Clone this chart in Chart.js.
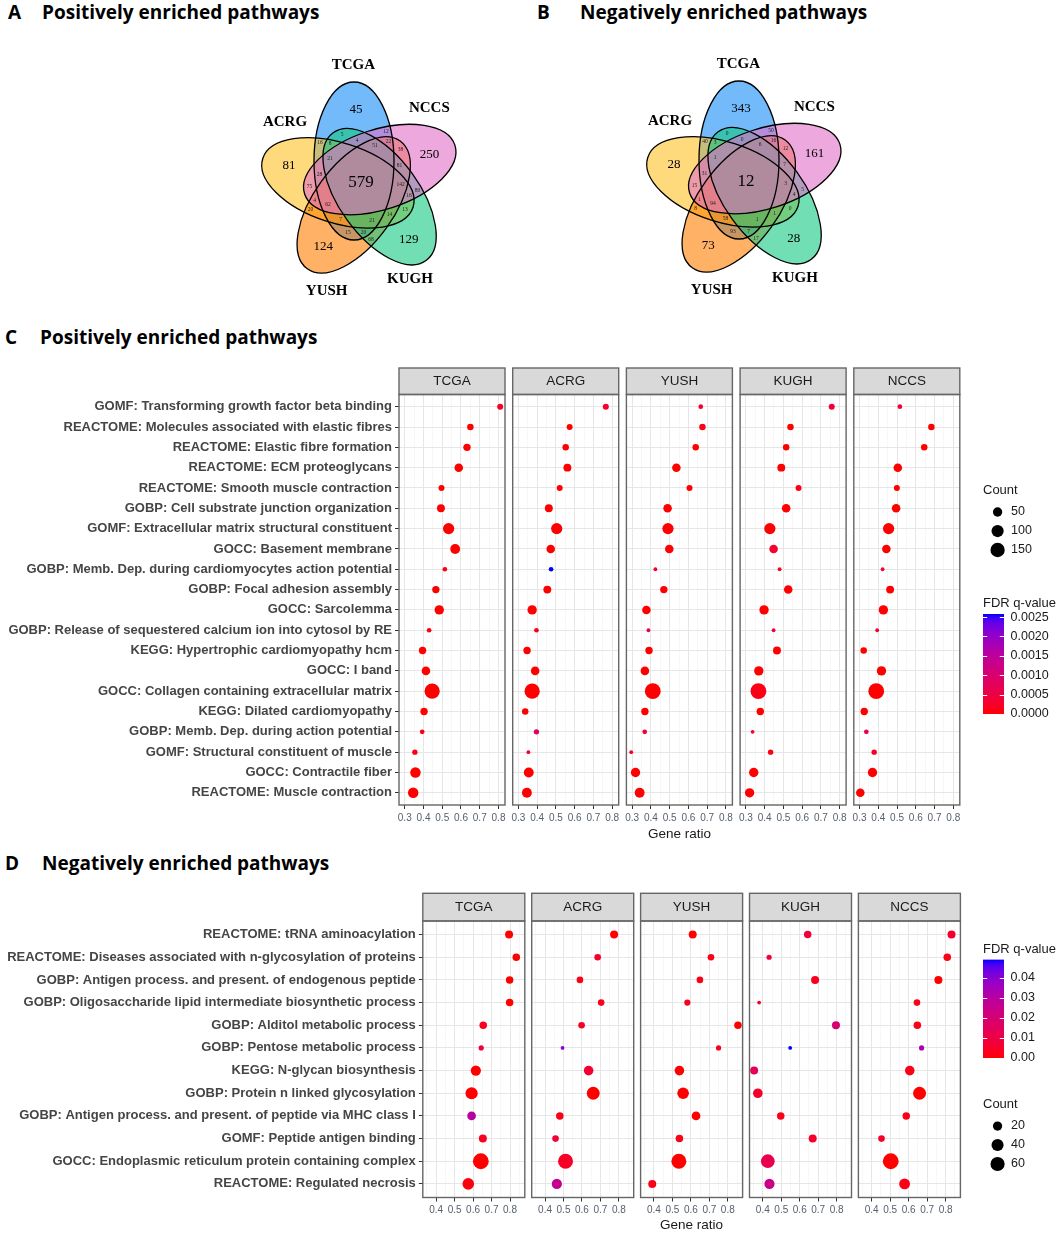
<!DOCTYPE html>
<html>
<head>
<meta charset="utf-8">
<script src="https://cdn.jsdelivr.net/npm/chart.js@4.4.1/dist/chart.umd.min.js"></script>
<style>
  html, body { margin: 0; padding: 0; background: #fff; }
  #page { position: relative; width: 1059px; height: 1233px; overflow: hidden; background: #fff; }
  canvas { position: absolute; }
  .head { position: absolute; font-family: 'Open Sans', sans-serif; font-weight: 700; font-size: 19px;
          line-height: 24px; color: #000; white-space: nowrap; }
</style>
</head>
<body>
<div id="page">
  <div class="head" style="left:8px;top:0px">A</div>
  <div class="head" style="left:42px;top:0px">Positively enriched pathways</div>
  <div class="head" style="left:537px;top:0px">B</div>
  <div class="head" style="left:580px;top:0px">Negatively enriched pathways</div>
  <div class="head" style="left:5px;top:325px">C</div>
  <div class="head" style="left:40px;top:325px">Positively enriched pathways</div>
  <div class="head" style="left:5px;top:851px">D</div>
  <div class="head" style="left:42px;top:851px">Negatively enriched pathways</div>
</div>
<script>
// ── Venn data (A: positive, B: negative) ─────────────────────
const vennSets = ['TCGA', 'ACRG', 'YUSH', 'KUGH', 'NCCS'];
const vennRegions = [
  'TCGA', 'ACRG', 'YUSH', 'KUGH', 'NCCS',
  'TCGA&KUGH', 'YUSH&NCCS', 'ACRG&KUGH', 'TCGA&YUSH', 'ACRG&NCCS',
  'TCGA&ACRG', 'TCGA&NCCS', 'KUGH&NCCS', 'YUSH&KUGH', 'ACRG&YUSH',
  'TCGA&KUGH&NCCS', 'YUSH&KUGH&NCCS', 'ACRG&YUSH&KUGH', 'TCGA&ACRG&YUSH', 'TCGA&ACRG&NCCS',
  'TCGA&ACRG&KUGH', 'TCGA&YUSH&NCCS', 'ACRG&KUGH&NCCS', 'TCGA&YUSH&KUGH', 'ACRG&YUSH&NCCS',
  'TCGA&ACRG&KUGH&NCCS', 'TCGA&YUSH&KUGH&NCCS', 'ACRG&YUSH&KUGH&NCCS', 'TCGA&ACRG&YUSH&KUGH', 'TCGA&ACRG&YUSH&NCCS',
  'TCGA&ACRG&YUSH&KUGH&NCCS'
];
const vennPosCounts = [45, 81, 124, 129, 250, 5, 38, 13, 15, 75, 16, 12, 80, 68, 20,
  4, 81, 14, 7, 28, 8, 22, 16, 20, 4, 21, 51, 142, 21, 62, 579];
const vennNegCounts = [343, 28, 73, 28, 161, 0, 12, 0, 93, 15, 40, 50, 5, 17, 8,
  0, 7, 1, 58, 31, 3, 16, 4, 7, 1, 1, 6, 3, 1, 94, 12];

// ── Panel C: positively enriched pathways ────────────────────
const cohorts = ['TCGA', 'ACRG', 'YUSH', 'KUGH', 'NCCS'];
const posPathways = [
  'GOMF: Transforming growth factor beta binding',
  'REACTOME: Molecules associated with elastic fibres',
  'REACTOME: Elastic fibre formation',
  'REACTOME: ECM proteoglycans',
  'REACTOME: Smooth muscle contraction',
  'GOBP: Cell substrate junction organization',
  'GOMF: Extracellular matrix structural constituent',
  'GOCC: Basement membrane',
  'GOBP: Memb. Dep. during cardiomyocytes action potential',
  'GOBP: Focal adhesion assembly',
  'GOCC: Sarcolemma',
  'GOBP: Release of sequestered calcium ion into cytosol by RE',
  'KEGG: Hypertrophic cardiomyopathy hcm',
  'GOCC: I band',
  'GOCC: Collagen containing extracellular matrix',
  'KEGG: Dilated cardiomyopathy',
  'GOBP: Memb. Dep. during action potential',
  'GOMF: Structural constituent of muscle',
  'GOCC: Contractile fiber',
  'REACTOME: Muscle contraction'
];
const posRatioTCGA = [0.809, 0.650, 0.632, 0.588, 0.496, 0.493, 0.534, 0.569, 0.514, 0.466, 0.484, 0.430, 0.395, 0.413, 0.446, 0.403, 0.393, 0.354, 0.357, 0.345];
const posRatioACRG = [0.766, 0.573, 0.552, 0.561, 0.520, 0.462, 0.504, 0.472, 0.474, 0.454, 0.373, 0.396, 0.346, 0.389, 0.373, 0.336, 0.396, 0.353, 0.355, 0.345];
const posRatioYUSH = [0.666, 0.675, 0.639, 0.536, 0.606, 0.489, 0.491, 0.498, 0.424, 0.469, 0.376, 0.387, 0.390, 0.368, 0.410, 0.368, 0.367, 0.295, 0.318, 0.340];
const posRatioKUGH = [0.758, 0.538, 0.515, 0.489, 0.581, 0.515, 0.428, 0.448, 0.480, 0.526, 0.397, 0.448, 0.466, 0.369, 0.367, 0.377, 0.336, 0.432, 0.342, 0.320];
const posRatioNCCS = [0.515, 0.683, 0.645, 0.504, 0.499, 0.495, 0.455, 0.443, 0.423, 0.463, 0.427, 0.394, 0.322, 0.417, 0.389, 0.325, 0.336, 0.378, 0.369, 0.304];
const posCountTCGA = [18, 21, 28, 40, 18, 33, 81, 58, 13, 28, 50, 13, 28, 40, 173, 28, 13, 15, 67, 67];
const posCountACRG = [18, 18, 21, 33, 18, 33, 81, 40, 13, 33, 50, 13, 28, 40, 173, 21, 15, 12, 58, 58];
const posCountYUSH = [13, 21, 21, 40, 18, 40, 81, 40, 12, 28, 40, 12, 28, 40, 190, 28, 13, 12, 50, 58];
const posCountKUGH = [18, 21, 21, 33, 18, 40, 81, 40, 12, 40, 50, 12, 33, 50, 190, 28, 12, 15, 50, 50];
const posCountNCCS = [13, 21, 21, 40, 18, 40, 81, 40, 12, 33, 50, 12, 21, 50, 190, 28, 13, 15, 50, 40];
const posFdrTCGA = [0.0002, 0, 0, 0, 0, 0, 0, 0, 0.0001, 0, 0, 0.0001, 0, 0, 0, 0, 0.0001, 0.0001, 0, 0];
const posFdrACRG = [0.0003, 0, 0, 0, 0, 0, 0, 0, 0.00258, 0, 0, 0.0002, 0, 0, 0, 0, 0.0008, 0.0002, 0, 0];
const posFdrYUSH = [0.0003, 0.0001, 0, 0, 0, 0, 0, 0, 0.0003, 0, 0, 0.0005, 0, 0, 0, 0, 0.0004, 0.0002, 0, 0];
const posFdrKUGH = [0.0004, 0, 0, 0, 0.0001, 0, 0, 0.0003, 0.0001, 0, 0, 0.0004, 0, 0, 0.0001, 0, 0.0003, 0.0001, 0, 0];
const posFdrNCCS = [0.0003, 0, 0, 0, 0, 0, 0, 0, 0.0003, 0, 0, 0.0003, 0, 0, 0, 0, 0.0006, 0.0002, 0, 0];
const posCountBreaks = [50, 100, 150];
const posFdrBreaks = [0, 0.0005, 0.001, 0.0015, 0.002, 0.0025];

// ── Panel D: negatively enriched pathways ────────────────────
const negPathways = [
  'REACTOME: tRNA aminoacylation',
  'REACTOME: Diseases associated with n-glycosylation of proteins',
  'GOBP: Antigen process. and present. of endogenous peptide',
  'GOBP: Oligosaccharide lipid intermediate biosynthetic process',
  'GOBP: Alditol metabolic process',
  'GOBP: Pentose metabolic process',
  'KEGG: N-glycan biosynthesis',
  'GOBP: Protein n linked glycosylation',
  'GOBP: Antigen process. and present. of peptide via MHC class I',
  'GOMF: Peptide antigen binding',
  'GOCC: Endoplasmic reticulum protein containing complex',
  'REACTOME: Regulated necrosis'
];
const negRatioTCGA = [0.795, 0.834, 0.798, 0.798, 0.655, 0.644, 0.615, 0.592, 0.592, 0.653, 0.642, 0.574];
const negRatioACRG = [0.774, 0.685, 0.589, 0.704, 0.598, 0.495, 0.636, 0.661, 0.480, 0.457, 0.511, 0.464];
const negRatioYUSH = [0.610, 0.709, 0.649, 0.581, 0.855, 0.750, 0.538, 0.558, 0.628, 0.538, 0.535, 0.391];
const negRatioKUGH = [0.643, 0.434, 0.683, 0.380, 0.796, 0.548, 0.353, 0.373, 0.497, 0.670, 0.427, 0.436];
const negRatioNCCS = [0.832, 0.809, 0.761, 0.645, 0.647, 0.670, 0.606, 0.659, 0.587, 0.453, 0.503, 0.578];
const negCountTCGA = [14, 12, 12, 12, 12, 6, 26, 41, 17, 14, 78, 36];
const negCountACRG = [14, 9, 9, 9, 9, 5, 22, 47, 12, 9, 68, 26];
const negCountYUSH = [14, 9, 9, 8, 12, 6, 22, 36, 17, 12, 68, 14];
const negCountKUGH = [12, 6, 14, 5, 14, 5, 14, 22, 12, 14, 55, 26];
const negCountNCCS = [14, 12, 14, 9, 12, 6, 22, 47, 12, 9, 78, 30];
const negFdrTCGA = [0, 0, 0, 0, 0.003, 0.008, 0, 0, 0.030, 0.003, 0, 0.001];
const negFdrACRG = [0, 0.005, 0.002, 0.003, 0.004, 0.040, 0.006, 0, 0.002, 0.007, 0.004, 0.026];
const negFdrYUSH = [0, 0.002, 0.002, 0.003, 0, 0.003, 0, 0, 0, 0.002, 0, 0.002];
const negFdrKUGH = [0.008, 0.008, 0.003, 0.004, 0.020, 0.049, 0.015, 0.005, 0.002, 0.005, 0.012, 0.024];
const negFdrNCCS = [0.006, 0.002, 0, 0.002, 0.002, 0.033, 0.002, 0, 0.002, 0.004, 0, 0.002];
const negCountBreaks = [20, 40, 60];
const negFdrBreaks = [0, 0.01, 0.02, 0.03, 0.04];

// ── Layout / style ───────────────────────────────────────────
Chart.defaults.font.family = "'Liberation Sans', Arial, sans-serif";
Chart.defaults.color = '#4d4d4d';

const page = document.getElementById('page');
function addCanvas(left, top, w, h) {
  const c = document.createElement('canvas');
  c.width = w; c.height = h;
  c.style.left = left + 'px'; c.style.top = top + 'px';
  c.style.width = w + 'px'; c.style.height = h + 'px';
  page.appendChild(c);
  return c;
}
const noInteract = { legend: { display: false }, tooltip: { enabled: false } };

// ── Colour: red → blue interpolated in CIE Lab (like ggplot) ─
function toLin(c) { c /= 255; return c <= 0.04045 ? c / 12.92 : Math.pow((c + 0.055) / 1.055, 2.4); }
function toSrgb(c) {
  c = c <= 0.0031308 ? 12.92 * c : 1.055 * Math.pow(c, 1 / 2.4) - 0.055;
  return Math.round(Math.max(0, Math.min(1, c)) * 255);
}
function rgbToLab(rgb) {
  const [r, g, b] = rgb.map(toLin);
  const x = (0.4124 * r + 0.3576 * g + 0.1805 * b) / 0.95047;
  const y = 0.2126 * r + 0.7152 * g + 0.0722 * b;
  const z = (0.0193 * r + 0.1192 * g + 0.9505 * b) / 1.08883;
  const f = t => t > 0.008856 ? Math.cbrt(t) : 7.787 * t + 16 / 116;
  return [116 * f(y) - 16, 500 * (f(x) - f(y)), 200 * (f(y) - f(z))];
}
function labToRgb([L, a, b]) {
  const fy = (L + 16) / 116, fx = fy + a / 500, fz = fy - b / 200;
  const inv = t => t * t * t > 0.008856 ? t * t * t : (t - 16 / 116) / 7.787;
  const X = 0.95047 * inv(fx), Y = inv(fy), Z = 1.08883 * inv(fz);
  return [
    toSrgb(3.2406 * X - 1.5372 * Y - 0.4986 * Z),
    toSrgb(-0.9689 * X + 1.8758 * Y + 0.0415 * Z),
    toSrgb(0.0557 * X - 0.2040 * Y + 1.0570 * Z)
  ];
}
const labLow = rgbToLab([255, 0, 0]), labHigh = rgbToLab([0, 0, 255]);
function redBlue(t) {
  const [r, g, b] = labToRgb(labLow.map((v, k) => v + (labHigh[k] - v) * t));
  return `rgb(${r},${g},${b})`;
}

// ── Venn diagrams ────────────────────────────────────────────
const VENN = {
  a: 79, b: 40, off: [-7, 22], singlePull: 0.9,
  names: [[-7.7, 118], [-76, 61.3], [-34.3, -107.7], [49, -96.3], [68.3, 74.7]],
  fills: ['rgba(20,140,245,0.6)', 'rgba(255,193,37,0.6)', 'rgba(255,127,0,0.6)',
          'rgba(20,200,130,0.6)', 'rgba(225,112,200,0.6)']
};
function vennEllipses() {
  return vennSets.map((s, k) => {
    const t = k * 72 * Math.PI / 180;
    return {
      cx: VENN.off[0] * Math.cos(t) - VENN.off[1] * Math.sin(t),
      cy: VENN.off[0] * Math.sin(t) + VENN.off[1] * Math.cos(t),
      ang: t + Math.PI / 2
    };
  });
}
function ellipseTest(e, px, py) {
  const dx = px - e.cx, dy = py - e.cy;
  const c = Math.cos(e.ang), s = Math.sin(e.ang);
  const u = dx * c + dy * s, v = -dx * s + dy * c;
  const f = (u / VENN.a) ** 2 + (v / VENN.b) ** 2;
  const gx = 2 * u / (VENN.a ** 2), gy = 2 * v / (VENN.b ** 2);
  return { inside: f <= 1, dist: Math.abs(f - 1) / Math.max(1e-6, Math.hypot(gx, gy)) };
}
// label anchor of each region: the sampled point deepest inside it
function regionAnchors(ells) {
  const best = {};
  for (let gx = -120; gx <= 120; gx += 0.5) {
    for (let gy = -120; gy <= 120; gy += 0.5) {
      const names = [];
      let depth = Infinity;
      ells.forEach((e, k) => {
        const t = ellipseTest(e, gx, gy);
        if (t.inside) names.push(vennSets[k]);
        depth = Math.min(depth, t.dist);
      });
      if (!names.length) continue;
      const key = names.join('&');
      if (!best[key] || depth > best[key].d) best[key] = { d: depth, x: gx, y: gy };
    }
  }
  return best;
}
const vennPlugin = {
  id: 'venn',
  afterDraw(chart, _args, o) {
    const { ctx, scales: { x, y } } = chart;
    const X = v => x.getPixelForValue(v), Y = v => y.getPixelForValue(v);
    const u = Math.abs(X(1) - X(0));
    const ells = vennEllipses();
    ctx.save();
    ells.forEach((e, k) => {
      ctx.beginPath();
      ctx.ellipse(X(e.cx), Y(e.cy), VENN.a * u, VENN.b * u, -e.ang, 0, Math.PI * 2);
      ctx.fillStyle = VENN.fills[k];
      ctx.fill();
    });
    ctx.strokeStyle = '#000';
    ctx.lineWidth = 1.3;
    ells.forEach(e => {
      ctx.beginPath();
      ctx.ellipse(X(e.cx), Y(e.cy), VENN.a * u, VENN.b * u, -e.ang, 0, Math.PI * 2);
      ctx.stroke();
    });
    ctx.fillStyle = '#000';
    ctx.textAlign = 'center';
    ctx.textBaseline = 'middle';
    ctx.font = 'bold 15px "Liberation Serif", serif';
    vennSets.forEach((s, k) => ctx.fillText(s, X(VENN.names[k][0]), Y(VENN.names[k][1])));
    const anchors = regionAnchors(ells);
    vennRegions.forEach((key, r) => {
      const p = anchors[key];
      if (!p) return;
      const n = key.split('&').length;
      const pull = n === 1 ? VENN.singlePull : 1;
      ctx.font = (n === 1 ? '13px' : n === 5 ? '17px' : '5.5px') + ' "Liberation Serif", serif';
      ctx.fillStyle = n === 1 || n === 5 ? '#000' : '#222';
      ctx.fillText(String(o.counts[r]), X(p.x * pull), Y(p.y * pull));
    });
    ctx.restore();
  }
};
function drawVenn(cx, cy, counts) {
  const half = 150;
  const cv = addCanvas(cx - half, cy - half, half * 2, half * 2);
  new Chart(cv, {
    type: 'scatter',
    data: { datasets: [{ data: [] }] },
    options: {
      responsive: false, animation: false, events: [],
      layout: { padding: 0 },
      plugins: { ...noInteract, venn: { counts } },
      scales: {
        x: { type: 'linear', min: -half, max: half, display: false },
        y: { type: 'linear', min: -half, max: half, display: false }
      }
    },
    plugins: [vennPlugin]
  });
}
drawVenn(361, 183, vennPosCounts);
drawVenn(746, 182, vennNegCounts);

// ── Facetted dot plots ───────────────────────────────────────
const isMajor = v => Math.abs(v * 10 - Math.round(v * 10)) < 1e-6;

const facetFrame = {
  id: 'facetFrame',
  afterDraw(chart, _args, o) {
    const { ctx, chartArea: a } = chart;
    ctx.save();
    ctx.lineWidth = 1.4;
    ctx.strokeStyle = '#666';
    ctx.fillStyle = '#d9d9d9';
    ctx.fillRect(a.left, a.top - o.stripH, a.right - a.left, o.stripH);
    ctx.strokeRect(a.left, a.top - o.stripH, a.right - a.left, o.stripH);
    ctx.strokeRect(a.left, a.top, a.right - a.left, a.bottom - a.top);
    ctx.fillStyle = '#1a1a1a';
    ctx.font = "13.5px 'Liberation Sans', Arial, sans-serif";
    ctx.textAlign = 'center';
    ctx.textBaseline = 'middle';
    ctx.fillText(o.label, (a.left + a.right) / 2, a.top - o.stripH / 2 + 0.5);
    ctx.restore();
  }
};

function sizeScale(counts, rMin, rMax) {
  const all = counts.flat();
  const lo = Math.min(...all), hi = Math.max(...all);
  return c => rMin + (rMax - rMin) * Math.sqrt(Math.max(0, (c - lo) / (hi - lo)));
}
function ratioRange(ratios) {
  const all = ratios.flat();
  const lo = Math.min(...all), hi = Math.max(...all), pad = (hi - lo) * 0.05;
  const min = lo - pad, max = hi + pad, ticks = [];
  for (let k = Math.ceil(min * 20); k <= Math.floor(max * 20); k++) ticks.push(k / 20);
  return { min, max, ticks };
}

function facet(p, i) {
  const pl = p.left + p.pitch * i, pr = pl + p.width;
  const first = i === 0;
  const cl = first ? 0 : Math.floor(pl - 10);
  const cw = Math.ceil(pr + 10) - cl;
  const ct = Math.floor(p.stripTop - 2);
  const ch = Math.ceil(p.bottom + p.axisH) - ct;
  const axisH = ch - (p.bottom - ct);
  const cv = addCanvas(cl, ct, cw, ch);
  const ratio = p.ratio[i], count = p.count[i], fdr = p.fdr[i];
  new Chart(cv, {
    type: 'bubble',
    data: {
      datasets: [{
        data: p.rows.map((_, r) => ({ x: ratio[r], y: r, r: p.size(count[r]) })),
        backgroundColor: fdr.map(q => redBlue(Math.min(1, q / p.fdrMax))),
        borderWidth: 0, hoverBorderWidth: 0, hoverRadius: 0
      }]
    },
    options: {
      responsive: false, animation: false, events: [],
      layout: { padding: { left: first ? 0 : pl - cl, right: cl + cw - pr, top: p.top - ct, bottom: 0 } },
      plugins: { ...noInteract, facetFrame: { label: cohorts[i], stripH: p.top - p.stripTop } },
      scales: {
        x: {
          type: 'linear', min: p.x.min, max: p.x.max,
          afterBuildTicks: s => { s.ticks = p.x.ticks.map(v => ({ value: v })); },
          afterFit: s => { s.height = axisH; },
          ticks: {
            autoSkip: false, maxRotation: 0, padding: 3, color: '#56606e', font: { size: 10 },
            callback: v => isMajor(v) ? v.toFixed(1) : ''
          },
          grid: {
            color: c => isMajor(c.tick.value) ? '#e6e6e6' : '#f3f3f3',
            lineWidth: c => isMajor(c.tick.value) ? 1 : 0.7,
            tickColor: c => isMajor(c.tick.value) ? '#333' : 'rgba(0,0,0,0)',
            tickLength: 4
          },
          border: { display: false },
          title: {
            display: i === 2, text: 'Gene ratio', color: '#1a1a1a', font: { size: 13.5 },
            padding: { top: 0, bottom: p.titlePad }
          }
        },
        y: {
          type: 'linear', reverse: true, min: -0.6, max: p.rows.length - 0.4,
          afterBuildTicks: s => { s.ticks = p.rows.map((_, r) => ({ value: r })); },
          afterFit: s => { s.width = first ? pl : 0; },
          ticks: {
            display: first, autoSkip: false, padding: 3, color: '#454545',
            font: { size: 13, weight: 'bold' }, callback: v => p.rows[v]
          },
          grid: { color: '#e6e6e6', lineWidth: 1, drawTicks: first, tickLength: 4, tickColor: '#333' },
          border: { display: false }
        }
      }
    },
    plugins: [facetFrame]
  });
}

// ── Legends ──────────────────────────────────────────────────
function countLegend(left, titleY, rowYs, breaks, size) {
  const gap = rowYs[1] - rowYs[0];
  const top = rowYs[0] - gap / 2, bottom = rowYs[rowYs.length - 1] + gap / 2;
  const ct = Math.floor(titleY - 9), cw = 70;
  const ch = Math.ceil(bottom + 9) - ct;
  const padTop = titleY - ct - 7.8;
  const cv = addCanvas(left, ct, cw, ch);
  new Chart(cv, {
    type: 'bubble',
    data: { datasets: [{ data: breaks.map((b, i) => ({ x: 0, y: i, r: size(b) })), backgroundColor: '#000', borderWidth: 0 }] },
    options: {
      responsive: false, animation: false, events: [],
      layout: { padding: { left: 0, right: 0, top: 0, bottom: ct + ch - bottom } },
      plugins: {
        ...noInteract,
        title: {
          display: true, text: 'Count', align: 'start', color: '#1a1a1a',
          font: { size: 13, weight: 'normal' },
          padding: { top: padTop, bottom: top - ct - padTop - 15.6 }
        }
      },
      scales: {
        x: { type: 'linear', min: -1, max: 1, display: false },
        y: {
          type: 'linear', position: 'right', reverse: true, min: -0.5, max: breaks.length - 0.5,
          afterBuildTicks: s => { s.ticks = breaks.map((_, i) => ({ value: i })); },
          afterFit: s => { s.width = cw - 22; },
          ticks: { padding: 6, color: '#1a1a1a', font: { size: 12.5 }, callback: v => breaks[v] },
          grid: { display: false, drawTicks: false },
          border: { display: false }
        }
      }
    }
  });
}

const barTicks = {
  id: 'barTicks',
  afterDatasetsDraw(chart) {
    const { ctx, chartArea: a, scales: { y } } = chart;
    const w = (a.right - a.left) / 5;
    ctx.save();
    ctx.strokeStyle = '#fff';
    ctx.lineWidth = 1;
    y.ticks.forEach(t => {
      const py = Math.round(y.getPixelForValue(t.value)) + 0.5;
      ctx.beginPath();
      ctx.moveTo(a.left, py); ctx.lineTo(a.left + w, py);
      ctx.moveTo(a.right - w, py); ctx.lineTo(a.right, py);
      ctx.stroke();
    });
    ctx.restore();
  }
};
function colourBar(left, titleY, barTop, barBottom, max, breaks, digits) {
  const ct = Math.floor(titleY - 9), cw = 90;
  const ch = Math.ceil(barBottom + 9) - ct;
  const padTop = titleY - ct - 7.8;
  const cv = addCanvas(left, ct, cw, ch);
  new Chart(cv, {
    type: 'bar',
    data: {
      labels: [''],
      datasets: [{
        data: [[0, max]], borderWidth: 0, barPercentage: 1, categoryPercentage: 1,
        backgroundColor: c => {
          const a = c.chart.chartArea;
          if (!a) return '#f00';
          const g = c.chart.ctx.createLinearGradient(0, a.bottom, 0, a.top);
          for (let k = 0; k <= 20; k++) g.addColorStop(k / 20, redBlue(k / 20));
          return g;
        }
      }]
    },
    options: {
      responsive: false, animation: false, events: [],
      layout: { padding: { left: 0, right: 0, top: 0, bottom: ct + ch - barBottom } },
      plugins: {
        ...noInteract,
        title: {
          display: true, text: 'FDR q-value', align: 'start', color: '#1a1a1a',
          font: { size: 13, weight: 'normal' },
          padding: { top: padTop, bottom: barTop - ct - padTop - 15.6 }
        }
      },
      scales: {
        x: { type: 'category', display: false },
        y: {
          type: 'linear', position: 'right', min: 0, max,
          afterBuildTicks: s => { s.ticks = breaks.map(v => ({ value: v })); },
          afterFit: s => { s.width = cw - 21; },
          ticks: { padding: 6.5, color: '#1a1a1a', font: { size: 12.5 }, callback: v => v.toFixed(digits) },
          grid: { display: false, drawTicks: false },
          border: { display: false }
        }
      }
    },
    plugins: [barTicks]
  });
}

// ── Panel C ──────────────────────────────────────────────────
const posRatio = [posRatioTCGA, posRatioACRG, posRatioYUSH, posRatioKUGH, posRatioNCCS];
const posCount = [posCountTCGA, posCountACRG, posCountYUSH, posCountKUGH, posCountNCCS];
const posFdr = [posFdrTCGA, posFdrACRG, posFdrYUSH, posFdrKUGH, posFdrNCCS];
const panelC = {
  rows: posPathways, ratio: posRatio, count: posCount, fdr: posFdr,
  x: ratioRange(posRatio), size: sizeScale(posCount, 1.9, 7.9), fdrMax: Math.max(...posFdr.flat()),
  left: 399, pitch: 113.7, width: 106, stripTop: 368, top: 394.5, bottom: 805, axisH: 40, titlePad: 3
};
cohorts.forEach((_, i) => facet(panelC, i));
countLegend(983, 490, [512.7, 533, 553.3], posCountBreaks, panelC.size);
colourBar(983, 603.5, 614, 719, panelC.fdrMax, posFdrBreaks, 4);

// ── Panel D ──────────────────────────────────────────────────
const negRatio = [negRatioTCGA, negRatioACRG, negRatioYUSH, negRatioKUGH, negRatioNCCS];
const negCount = [negCountTCGA, negCountACRG, negCountYUSH, negCountKUGH, negCountNCCS];
const negFdr = [negFdrTCGA, negFdrACRG, negFdrYUSH, negFdrKUGH, negFdrNCCS];
const panelD = {
  rows: negPathways, ratio: negRatio, count: negCount, fdr: negFdr,
  x: ratioRange(negRatio), size: sizeScale(negCount, 1.9, 7.9), fdrMax: Math.max(...negFdr.flat()),
  left: 422.8, pitch: 108.9, width: 102, stripTop: 893.3, top: 921, bottom: 1197.5, axisH: 35, titlePad: 0
};
cohorts.forEach((_, i) => facet(panelD, i));
colourBar(983, 949, 959.6, 1063, panelD.fdrMax, negFdrBreaks, 2);
countLegend(983, 1104, [1126.7, 1147, 1167.3], negCountBreaks, panelD.size);
</script>
</body>
</html>
